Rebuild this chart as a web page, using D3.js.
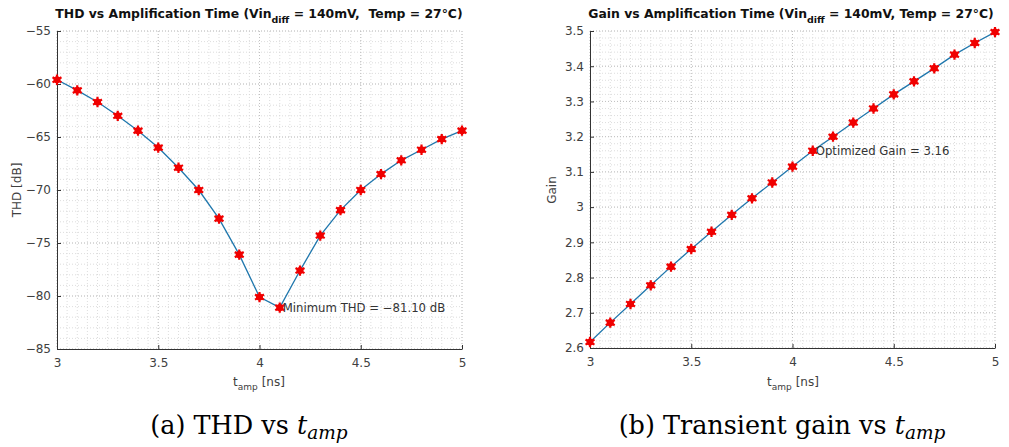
<!DOCTYPE html>
<html>
<head>
<meta charset="utf-8">
<script src="https://cdn.jsdelivr.net/npm/d3@7"></script>
<style>
  body { margin: 0; background: #fff; }
  svg { display: block; }
  text { font-family: "DejaVu Sans", "Liberation Sans", sans-serif; }
</style>
</head>
<body>
<svg id="fig" width="1009" height="447"></svg>
<script>
//Datos
let tAmp = [3.0, 3.1, 3.2, 3.3, 3.4, 3.5, 3.6, 3.7, 3.8, 3.9, 4.0, 4.1, 4.2, 4.3, 4.4, 4.5, 4.6, 4.7, 4.8, 4.9, 5.0];
let thdValues = [-59.6, -60.6, -61.7, -63.0, -64.4, -66.0, -67.9, -70.0, -72.7, -76.1, -80.1, -81.10, -77.6, -74.3, -71.9, -70.0, -68.5, -67.2, -66.2, -65.2, -64.4];
let gainValues = [2.617, 2.672, 2.725, 2.778, 2.831, 2.881, 2.930, 2.978, 3.025, 3.070, 3.115, 3.16, 3.200, 3.240, 3.280, 3.320, 3.357, 3.394, 3.433, 3.466, 3.497];

let xTicks = [3, 3.5, 4, 4.5, 5];
let thdTicks = [-85, -80, -75, -70, -65, -60, -55];
let gainTicks = [2.6, 2.7, 2.8, 2.9, 3.0, 3.1, 3.2, 3.3, 3.4, 3.5];

//Colores
let line_color = '#1f77ad';
let marker_color = '#f00000';
let axis_color = '#333333';
let label_color = '#404040';

let svg = d3.select('#fig');

function drawPanel(opts) {
    let {left, right, top, bottom, yDomain, yTicks, yMinor, values, yFormat} = opts;
    let g = svg.append('g');

    let x = d3.scaleLinear().domain([3, 5]).range([left, right]);
    let y = d3.scaleLinear().domain(yDomain).range([bottom, top]);

    //Rejilla menor
    let xMinor = d3.range(3, 5.0001, 0.05);
    let yMin = d3.range(yDomain[0], yDomain[1] + yMinor / 2, yMinor);
    g.append('g').selectAll('line')
        .data(xMinor).enter().append('line')
        .attr('x1', d => x(d)).attr('x2', d => x(d))
        .attr('y1', top).attr('y2', bottom)
        .attr('stroke', '#d4d4d4').attr('stroke-width', 0.8)
        .attr('stroke-dasharray', '1,2');
    g.append('g').selectAll('line')
        .data(yMin).enter().append('line')
        .attr('x1', left).attr('x2', right)
        .attr('y1', d => y(d)).attr('y2', d => y(d))
        .attr('stroke', '#d4d4d4').attr('stroke-width', 0.8)
        .attr('stroke-dasharray', '1,2');

    //Rejilla mayor
    g.append('g').selectAll('line')
        .data(xTicks).enter().append('line')
        .attr('x1', d => x(d)).attr('x2', d => x(d))
        .attr('y1', top).attr('y2', bottom)
        .attr('stroke', '#bdbdbd').attr('stroke-width', 0.9)
        .attr('stroke-dasharray', '1,2');
    g.append('g').selectAll('line')
        .data(yTicks).enter().append('line')
        .attr('x1', left).attr('x2', right)
        .attr('y1', d => y(d)).attr('y2', d => y(d))
        .attr('stroke', '#bdbdbd').attr('stroke-width', 0.9)
        .attr('stroke-dasharray', '1,2');

    //Eje X
    let xAxis = g.append('g')
        .attr('transform', `translate(0,${bottom})`)
        .call(d3.axisBottom(x).tickValues(xTicks).tickSize(-4).tickPadding(9).tickSizeOuter(0).tickFormat(d3.format('')));
    xAxis.select('.domain').attr('stroke', axis_color);
    xAxis.selectAll('.tick line').attr('stroke', axis_color);
    xAxis.selectAll('.tick text').attr('fill', label_color).style('font-size', '12px').attr('dy', '0.71em');

    //Eje Y
    let yAxis = g.append('g')
        .attr('transform', `translate(${left},0)`)
        .call(d3.axisLeft(y).tickValues(yTicks).tickSize(-4).tickPadding(6).tickSizeOuter(0).tickFormat(yFormat));
    yAxis.select('.domain').attr('stroke', axis_color);
    yAxis.selectAll('.tick line').attr('stroke', axis_color);
    yAxis.selectAll('.tick text').attr('fill', label_color).style('font-size', '12px');

    //Línea
    let line = d3.line().x((d, i) => x(tAmp[i])).y(d => y(d));
    g.append('path')
        .datum(values)
        .attr('d', line)
        .attr('fill', 'none')
        .attr('stroke', line_color)
        .attr('stroke-width', 1.3);

    //Marcadores
    let star = d3.symbol().type(d3.symbolAsterisk).size(75);
    let dot = d3.symbol().type(d3.symbolCircle).size(40);
    let marks = g.append('g').selectAll('g')
        .data(values).enter().append('g')
        .attr('transform', (d, i) => `translate(${x(tAmp[i])},${y(d)})`);
    marks.append('path').attr('d', dot()).attr('fill', marker_color);
    marks.append('path').attr('d', star()).attr('fill', 'none')
        .attr('stroke', marker_color).attr('stroke-width', 2.2);

    return {x, y, g};
}

function addTitle(cx, prefix, suffix) {
    let t = svg.append('text')
        .attr('x', cx).attr('y', 18)
        .attr('text-anchor', 'middle')
        .attr('fill', '#111')
        .style('font-size', '12.4px')
        .style('font-weight', 'bold');
    t.append('tspan').text(prefix);
    t.append('tspan').attr('dy', 5).style('font-size', '9.5px').text('diff');
    t.append('tspan').attr('dy', -5).text(suffix);
}

function addXLabel(cx) {
    let t = svg.append('text')
        .attr('x', cx).attr('y', 386)
        .attr('text-anchor', 'middle')
        .attr('fill', label_color)
        .style('font-size', '12px');
    t.append('tspan').text('t');
    t.append('tspan').attr('dy', 4).style('font-size', '9px').text('amp');
    t.append('tspan').attr('dy', -4).text(' [ns]');
}

function addCaption(cx, label) {
    let t = svg.append('text')
        .attr('x', cx).attr('y', 434)
        .attr('text-anchor', 'middle')
        .attr('fill', '#000')
        .style('font-family', '"DejaVu Serif", "Liberation Serif", serif')
        .style('font-size', '25.5px');
    t.append('tspan').text(label);
    t.append('tspan').style('font-style', 'italic').text('t');
    t.append('tspan').attr('dy', 5).style('font-style', 'italic').style('font-size', '18.5px').text('amp');
}

//Gráfico THD
let p1 = drawPanel({
    left: 57, right: 462, top: 31, bottom: 349,
    yDomain: [-85, -55], yTicks: thdTicks, yMinor: 1,
    values: thdValues,
    yFormat: d => String(d).replace('-', '\u2212')
});
addTitle(259, 'THD vs Amplification Time (Vin', ' = 140mV,\u00a0 Temp = 27°C)');
svg.append('text')
    .attr('transform', 'translate(21,190) rotate(-90)')
    .attr('text-anchor', 'middle')
    .attr('fill', label_color)
    .style('font-size', '12px')
    .text('THD [dB]');
addXLabel(259);
svg.append('text')
    .attr('x', p1.x(4.1) + 3).attr('y', p1.y(thdValues[11]) + 4.5)
    .attr('fill', '#333')
    .style('font-size', '11.7px')
    .text('Minimum THD = \u221281.10 dB');
addCaption(249, '(a) THD vs ');

//Gráfico Ganancia
let p2 = drawPanel({
    left: 590, right: 995, top: 31, bottom: 348,
    yDomain: [2.6, 3.5], yTicks: gainTicks, yMinor: 0.02,
    values: gainValues,
    yFormat: d => d === 3 ? '3' : d3.format('.1f')(d)
});
addTitle(791, 'Gain vs Amplification Time (Vin', ' = 140mV, Temp = 27°C)');
svg.append('text')
    .attr('transform', 'translate(556,190) rotate(-90)')
    .attr('text-anchor', 'middle')
    .attr('fill', label_color)
    .style('font-size', '12px')
    .text('Gain');
addXLabel(793);
svg.append('text')
    .attr('x', p2.x(4.1) + 3).attr('y', p2.y(gainValues[11]) + 4.5)
    .attr('fill', '#333')
    .style('font-size', '11.7px')
    .text('Optimized Gain = 3.16');
addCaption(782, '(b) Transient gain vs ');
</script>
</body>
</html>
